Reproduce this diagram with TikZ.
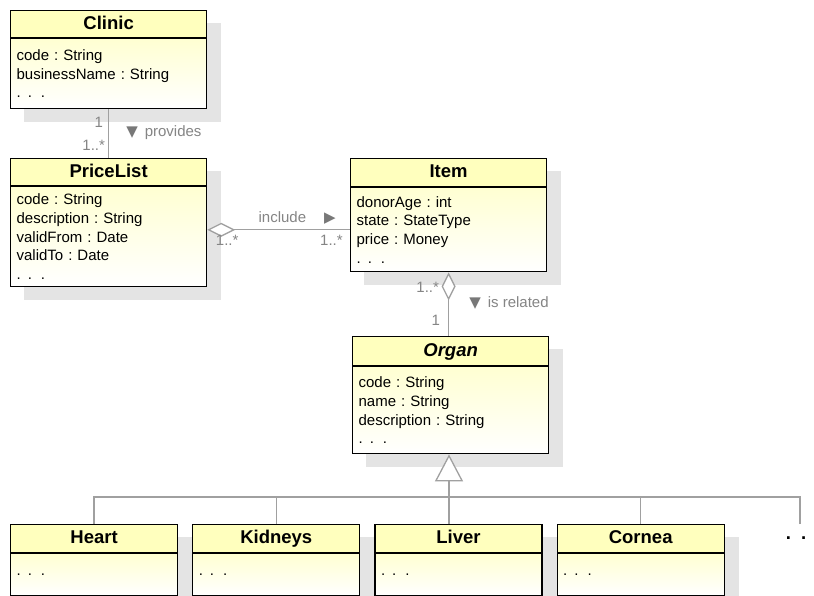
\documentclass[tikz,border=0pt]{standalone}
\usepackage{fontspec}
\setmainfont{Liberation Sans}
\newfontfamily\symfont{DejaVu Sans}
\usepackage{tikz}
\usetikzlibrary{arrows.meta, positioning, calc, backgrounds}
\definecolor{hdryellow}{HTML}{FFFFBE}
\definecolor{bodyyellow}{HTML}{FFFFD2}
\definecolor{linkgray}{HTML}{A0A0A0}
\definecolor{textgray}{HTML}{858585}
\definecolor{shadowgray}{HTML}{E4E4E4}

\frenchspacing
\newcommand{\etc}{.\hspace{7pt}.\hspace{9pt}.}
\newcommand{\dirdown}{{\symfont\color{textgray!90!black}▼}}
\newcommand{\dirright}{{\symfont\color{textgray!90!black}▶}}

\begin{document}
\begin{tikzpicture}[
    x=1pt, y=-1pt,
    cls/.style={draw, line width=1.2pt, fill=hdryellow, minimum width=196pt, minimum height=27pt, inner sep=0pt, text height=13.5pt, text depth=3.5pt, font=\bfseries\fontsize{18.5}{20}\selectfont},
    attrs/.style={draw, line width=1.2pt, top color=bodyyellow, bottom color=white, text width=184pt, inner xsep=6pt, inner ysep=4pt, align=left, font=\fontsize{15}{18.7}\selectfont},
    sub/.style={cls, minimum width=167pt, minimum height=28pt},
    subattrs/.style={attrs, text width=155pt, minimum height=42pt},
    shd/.style={fill=shadowgray},
    link/.style={draw=linkgray, line width=1.3pt},
    aggr/.style={link, {Diamond[open, fill=white, length=28pt, width=14pt]}-},
    gen/.style={link, -{Triangle[open, fill=white, length=27pt, width=28pt]}},
    mult/.style={font=\fontsize{15}{16}\selectfont, text=textgray, inner sep=2pt},
]
\useasboundingbox (0,0) rectangle (814,596);

% Clinic
\node[cls, anchor=north west] (clinic) at (10,10) {Clinic};
\node[attrs, below=0pt of clinic, minimum height=70pt] (clinic-b) {code : String\\businessName : String\\\etc};

% PriceList
\node[cls, anchor=north west] (pricelist) at (10,158) {PriceList};
\node[attrs, below=0pt of pricelist, minimum height=100pt] (pricelist-b) {code : String\\description : String\\validFrom : Date\\validTo : Date\\\etc};

% Item
\node[cls, anchor=north west, minimum height=28pt] (item) at (350,158) {Item};
\node[attrs, below=0pt of item, minimum height=84pt] (item-b) {donorAge : int\\state : StateType\\price : Money\\\etc};

% Organ (abstract)
\node[cls, anchor=north west, minimum height=29pt, font=\bfseries\itshape\fontsize{18.5}{20}\selectfont] (organ) at (352,336) {Organ};
\node[attrs, below=0pt of organ, minimum height=87pt] (organ-b) {code : String\\name : String\\description : String\\\etc};

% Subclasses
\node[sub, anchor=north west] (heart) at (10,524) {Heart};
\node[subattrs, below=0pt of heart] (heart-b) {\etc};
\node[sub, right=14pt of heart] (kidneys) {Kidneys};
\node[subattrs, below=0pt of kidneys] (kidneys-b) {\etc};
\node[sub, right=14pt of kidneys] (liver) {Liver};
\node[subattrs, below=0pt of liver] (liver-b) {\etc};
\node[sub, right=14pt of liver] (cornea) {Cornea};
\node[subattrs, below=0pt of cornea] (cornea-b) {\etc};
\node[font=\bfseries\fontsize{18.5}{20}\selectfont, inner sep=0pt] (more-dots) at (796,538) {.\hspace{10pt}.};
\coordinate (more) at (800,524);
\coordinate (bus) at (449,497);

% Shadows
\begin{pgfonlayer}{background}
\fill[white] (0,0) rectangle (814,596);
\foreach \c in {clinic, pricelist, item, organ, heart, kidneys, liver, cornea}
    \fill[shd] ($(\c.north west)+(14,13)$) rectangle ($(\c-b.south east)+(14,13)$);
\end{pgfonlayer}

% Associations
\draw[link] (clinic-b.south) -- (clinic-b.south |- pricelist.north)
    node[mult, pos=0.27, left=3pt] (m-clinic) {1}
    node[mult, pos=0.73, left=1pt] (m-plist) {1..*}
    node[mult, pos=0.47, right=15pt] (provides) {\dirdown\hspace{7pt}provides};
\draw[aggr] (item-b.west -| pricelist-b.east) -- (item-b.west)
    node[mult, pos=0.14, below=3pt] (m-incl1) {1..*}
    node[mult, pos=0.87, below=3pt] (m-incl2) {1..*}
    node[mult, pos=0.63, above=3pt] (include) {include\hspace{18pt}\dirright};
\draw[aggr] (item-b.south) -- (item-b.south |- organ.north)
    node[mult, pos=0.23, left=7pt] (m-item) {1..*}
    node[mult, pos=0.76, left=6pt] (m-organ) {1}
    node[mult, pos=0.48, right=18pt] (related) {\dirdown\hspace{7pt}is related};

% Generalization
\draw[link] (heart.north) |- (bus);
\draw[link] (kidneys.north) |- (bus);
\draw[link] (bus |- liver.north) -- (bus);
\draw[link] (cornea.north) |- (bus);
\draw[link] (more) |- (bus);
\draw[gen] (bus) -- (bus |- organ-b.south);

\end{tikzpicture}
\end{document}
